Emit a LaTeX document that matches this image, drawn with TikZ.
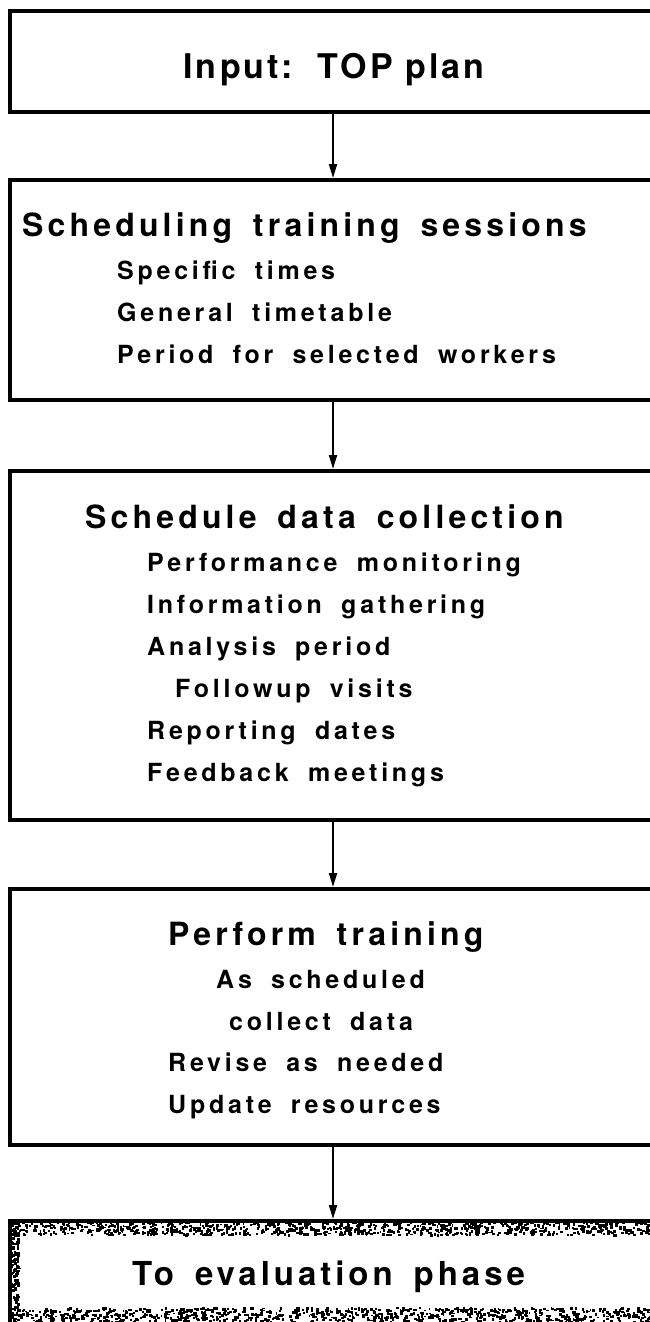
\documentclass[tikz,border=0pt]{standalone}
\usepackage{fontspec}
\setmainfont{TeX Gyre Heros}
\newfontfamily\titlefont[LetterSpace=13,WordSpace=1.6]{TeX Gyre Heros}
\newfontfamily\itemfont[LetterSpace=15,WordSpace=1.8]{TeX Gyre Heros}
\newfontfamily\inputfont[LetterSpace=9]{TeX Gyre Heros}
\newfontfamily\endfont[LetterSpace=12,WordSpace=1.6]{TeX Gyre Heros}
\usetikzlibrary{arrows.meta}
\begin{document}
\begin{tikzpicture}[x=1pt,y=-1pt,
  box/.style={draw, line width=4pt, rectangle, anchor=north west, inner sep=0pt, minimum width=700pt},
  ttl/.style={anchor=base west, inner sep=0pt, font=\titlefont\bfseries\fontsize{32}{36}\selectfont},
  itm/.style={anchor=base west, inner sep=0pt, font=\itemfont\bfseries\fontsize{25}{28}\selectfont},
  arr/.style={line width=2pt, -{Triangle[length=14pt,width=8pt]}}]
\useasboundingbox (0,0) rectangle (650,1322);
\clip (0,0) rectangle (650,1322);
\fill[white] (0,0) rectangle (650,1322);
% boxes
\node[box, minimum height=101pt] (b1) at (8,9) {};
\node[box, minimum height=220pt] (b2) at (8,178) {};
\node[box, minimum height=349pt] (b3) at (8,469) {};
\node[box, minimum height=256pt] (b4) at (8,887) {};
\node[box, minimum height=110pt] (b5) at (8,1219) {};
% speckled band of last box
\pgfmathsetseed{7}
\foreach \i in {1,...,900} {
  \pgfmathsetmacro{\px}{10+rnd*645}
  \pgfmathsetmacro{\py}{1221+rnd*13}
  \fill (\px,\py) rectangle ++(1.6+rnd*1.8,1.6+rnd*1.5);
}
\foreach \i in {1,...,900} {
  \pgfmathsetmacro{\px}{10+rnd*645}
  \pgfmathsetmacro{\py}{1307+rnd*14}
  \fill (\px,\py) rectangle ++(1.6+rnd*1.8,1.6+rnd*1.5);
}
\foreach \i in {1,...,160} {
  \pgfmathsetmacro{\px}{10+rnd*8}
  \pgfmathsetmacro{\py}{1221+rnd*100}
  \fill (\px,\py) rectangle ++(1.6+rnd*1.8,1.6+rnd*1.5);
}
% texts
\node[anchor=base, inner sep=0pt, font=\inputfont\bfseries\fontsize{34}{38}\selectfont] (t1) at (334,78) {Input:\ \ TOP plan};

\node[ttl] (t2) at (22,236) {Scheduling training sessions};
\node[itm] (t2a) at (117,279) {Specific times};
\node[itm] (t2b) at (117,321) {General timetable};
\node[itm] (t2c) at (117,363) {Period for selected workers};

\node[ttl] (t3) at (85,528) {Schedule data collection};
\node[itm] (t3a) at (147,571) {Performance monitoring};
\node[itm] (t3b) at (147,613) {Information gathering};
\node[itm] (t3c) at (147,655) {Analysis period};
\node[itm] (t3d) at (175,697) {Followup visits};
\node[itm] (t3e) at (147,739) {Reporting dates};
\node[itm] (t3f) at (147,781) {Feedback meetings};

\node[ttl] (t4) at (168,945) {Perform training};
\node[itm] (t4a) at (216,988) {As scheduled};
\node[itm] (t4b) at (229,1030) {collect data};
\node[itm] (t4c) at (168,1071) {Revise as needed};
\node[itm] (t4d) at (168,1113) {Update resources};

\node[anchor=base west, inner sep=0pt, font=\endfont\bfseries\fontsize{33}{38}\selectfont] (t5) at (132,1285) {To evaluation phase};
% connectors
\coordinate (ax) at (333,0);
\draw[arr] (b1.south -| ax) -- (b2.north -| ax);
\draw[arr] (b2.south -| ax) -- (b3.north -| ax);
\draw[arr] (b3.south -| ax) -- (b4.north -| ax);
\draw[arr] (b4.south -| ax) -- (b5.north -| ax);
\end{tikzpicture}
\end{document}
